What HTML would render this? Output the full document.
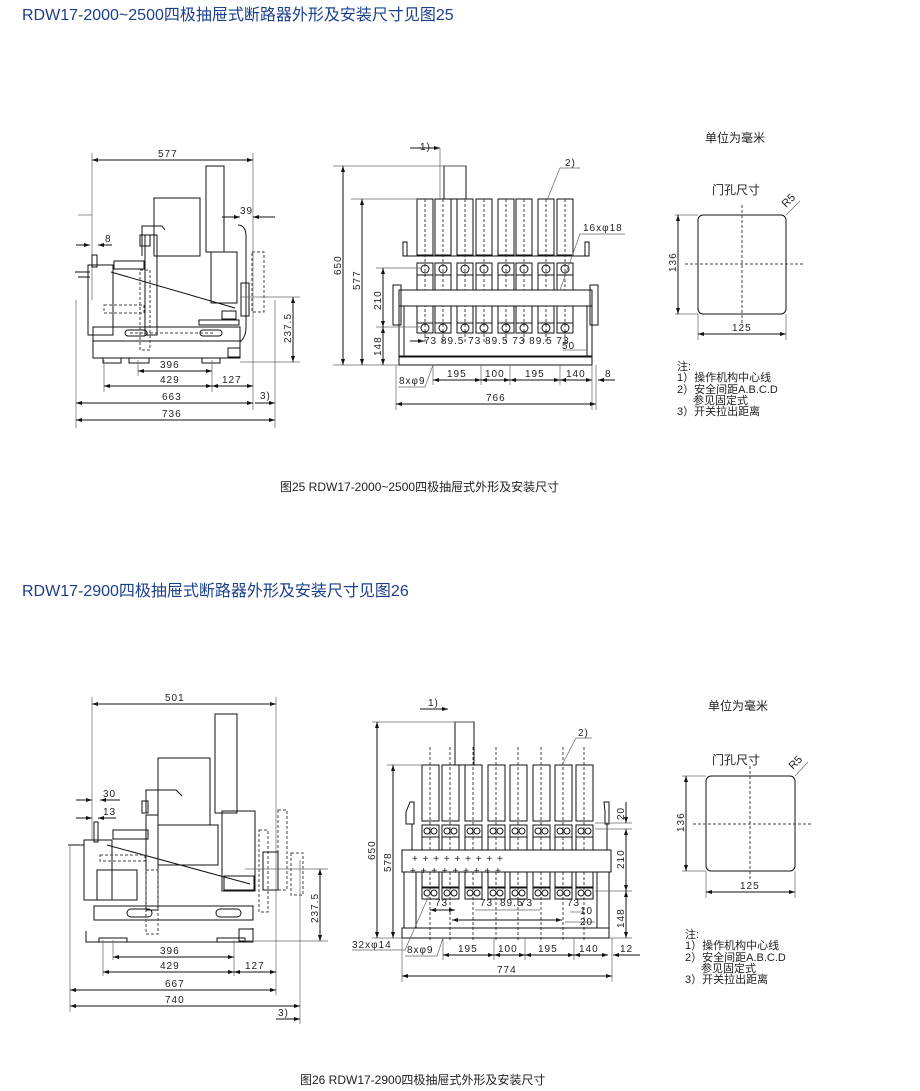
<!DOCTYPE html>
<html><head><meta charset="utf-8"><style>
body{margin:0;background:#fff;width:920px;height:1091px;overflow:hidden}
svg{display:block}
text{font-family:"Liberation Sans","Noto Sans CJK SC",sans-serif;fill:#222}
.t{font-size:16px;fill:#1b3f8f}
.d{font-size:10px;letter-spacing:1px}
.c{font-size:12px}
.n{font-size:11px}
line,rect,path,polyline{stroke:#111;fill:none;stroke-width:1}
.h{stroke-dasharray:3,2;stroke:#444}
.g{stroke:#666;stroke-width:.7}
</style></head><body>
<svg width="920" height="1091" viewBox="0 0 920 1091" xmlns="http://www.w3.org/2000/svg">
<defs>
<marker id="a" markerWidth="6" markerHeight="6" refX="6" refY="3" orient="auto"><path d="M0,1L6,3L0,5" style="fill:#111;stroke:none"/></marker>
<marker id="b" markerWidth="6" markerHeight="6" refX="0" refY="3" orient="auto"><path d="M6,1L0,3L6,5" style="fill:#111;stroke:none"/></marker>
<g id="p1"><rect x="0" y="0" width="16" height="56"/><line class="h" x1="8" y1="0" x2="8" y2="145"/><rect x="0" y="64" width="16" height="12"/><circle cx="8" cy="70" r="4" style="stroke:#111;fill:none"/><rect x="0" y="76" width="16" height="48"/><rect x="0" y="124" width="16" height="10"/><circle cx="8" cy="129" r="4" style="stroke:#111;fill:none"/></g>
<g id="p2"><rect x="0" y="0" width="17" height="56"/><line class="h" x1="8" y1="-18" x2="8" y2="175"/><rect x="0" y="60" width="17" height="12"/><circle cx="5" cy="66" r="3" style="stroke:#111;fill:none"/><circle cx="12" cy="66" r="3" style="stroke:#111;fill:none"/><rect x="0" y="72" width="17" height="50"/><rect x="0" y="123" width="17" height="11"/><circle cx="5" cy="128" r="3" style="stroke:#111;fill:none"/><circle cx="12" cy="128" r="3" style="stroke:#111;fill:none"/></g>
</defs>

<text class="t" x="22" y="20">RDW17-2000~2500四极抽屉式断路器外形及安装尺寸见图25</text>
<text class="t" x="22" y="596">RDW17-2900四极抽屉式断路器外形及安装尺寸见图26</text>
<text class="c" x="280" y="491">图25 RDW17-2000~2500四极抽屉式外形及安装尺寸</text>
<text class="c" x="300" y="1084">图26 RDW17-2900四极抽屉式外形及安装尺寸</text>

<!-- ===== Fig 25 side view ===== -->
<g>
<line x1="92" y1="153" x2="92" y2="300" class="g"/><line x1="253" y1="153" x2="253" y2="410" class="g"/>
<line x1="92" y1="160" x2="253" y2="160" marker-start="url(#b)" marker-end="url(#a)"/><text class="d" x="158" y="157">577</text>
<rect x="206" y="166" width="18" height="86"/>
<rect x="154" y="198" width="46" height="58"/>
<path d="M142,256V226h20l3,4"/>
<rect x="211" y="252" width="26" height="51"/>
<rect x="140" y="235" width="10" height="11"/><rect x="145" y="235" width="12" height="100"/>
<rect x="114" y="261" width="30" height="8"/>
<rect x="88" y="265" width="25" height="70"/><line x1="75" y1="272" x2="90" y2="272"/><line x1="78" y1="277" x2="90" y2="277"/><rect x="92" y="255" width="5" height="12"/>
<line x1="111" y1="272" x2="235" y2="308"/>
<rect x="199" y="320" width="40" height="5"/><rect x="222" y="311" width="14" height="8"/>
<path d="M238,225q8,0 8,12v90q0,10 -6,15"/><rect x="241" y="283" width="8" height="33"/>
<rect x="252" y="252" width="12" height="60" class="h"/>
<rect x="93" y="327" width="147" height="14"/>
<rect x="125" y="330" width="22" height="6" rx="3"/><rect x="200" y="330" width="22" height="6" rx="3"/>
<line class="h" x1="130" y1="333" x2="215" y2="333"/>
<path d="M93,341V358h147V341"/><rect x="103" y="358" width="18" height="5"/><rect x="129" y="358" width="20" height="5"/><rect x="202" y="358" width="18" height="5"/>
<rect x="228" y="348" width="12" height="9"/>
<rect x="140" y="270" width="10" height="80" class="h"/><rect x="104" y="305" width="40" height="8" class="h"/>
<line x1="78" y1="215" x2="92" y2="215" class="g"/><line x1="76" y1="245" x2="90" y2="245" marker-end="url(#a)"/><line x1="98" y1="245" x2="112" y2="245" marker-start="url(#b)"/><text class="d" x="105" y="242">8</text>
<line x1="222" y1="217" x2="240" y2="217" marker-end="url(#a)"/><line x1="253" y1="217" x2="275" y2="217" marker-start="url(#b)"/><text class="d" x="240" y="214">39</text>
<line x1="240" y1="297" x2="300" y2="297" class="g"/><line x1="240" y1="362" x2="300" y2="362" class="g"/>
<line x1="293" y1="297" x2="293" y2="362" marker-start="url(#b)" marker-end="url(#a)"/><text class="d" transform="translate(291,343) rotate(-90)">237.5</text>
<line x1="76" y1="300" x2="76" y2="428" class="g"/><line x1="104" y1="360" x2="104" y2="392" class="g"/><line x1="138" y1="360" x2="138" y2="376" class="g"/><line x1="212" y1="360" x2="212" y2="392" class="g"/><line x1="275" y1="300" x2="275" y2="428" class="g"/>
<line x1="138" y1="371" x2="212" y2="371" marker-start="url(#b)" marker-end="url(#a)"/><text class="d" x="160" y="368">396</text>
<line x1="104" y1="386" x2="212" y2="386" marker-start="url(#b)" marker-end="url(#a)"/><text class="d" x="160" y="383">429</text>
<line x1="212" y1="386" x2="253" y2="386" marker-start="url(#b)" marker-end="url(#a)"/><text class="d" x="222" y="383">127</text>
<line x1="76" y1="403" x2="253" y2="403" marker-start="url(#b)" marker-end="url(#a)"/><text class="d" x="162" y="400">663</text>
<line x1="255" y1="403" x2="275" y2="403" marker-end="url(#a)"/><text class="d" x="260" y="399">3)</text>
<line x1="76" y1="420" x2="275" y2="420" marker-start="url(#b)" marker-end="url(#a)"/><text class="d" x="162" y="417">736</text>
</g>

<!-- ===== Fig 25 front view ===== -->
<g>
<rect x="444" y="166" width="22" height="33"/>
<use href="#p1" x="417" y="199"/><use href="#p1" x="435" y="199"/><use href="#p1" x="457" y="199"/><use href="#p1" x="476" y="199"/><use href="#p1" x="498" y="199"/><use href="#p1" x="516" y="199"/><use href="#p1" x="538" y="199"/><use href="#p1" x="557" y="199"/>
<line x1="405" y1="256" x2="588" y2="256"/><rect x="403" y="242" width="4" height="14"/><rect x="585" y="242" width="4" height="14"/>
<rect x="399" y="290" width="193" height="16" style="fill:#fff"/>
<rect x="393" y="285" width="8" height="40"/><rect x="590" y="285" width="8" height="40"/>
<path d="M399,306V357h193V306"/><line x1="404" y1="306" x2="404" y2="357"/><line x1="587" y1="306" x2="587" y2="357"/>
<rect x="399" y="356" width="193" height="9"/>
<line x1="333" y1="166" x2="466" y2="166" class="g"/><line x1="351" y1="199" x2="417" y2="199" class="g"/><line x1="376" y1="268" x2="420" y2="268" class="g"/><line x1="376" y1="327" x2="420" y2="327" class="g"/><line x1="333" y1="365" x2="399" y2="365" class="g"/>
<line x1="343" y1="166" x2="343" y2="365" marker-start="url(#b)" marker-end="url(#a)"/><text class="d" transform="translate(341,275) rotate(-90)">650</text>
<line x1="362" y1="199" x2="362" y2="365" marker-start="url(#b)" marker-end="url(#a)"/><text class="d" transform="translate(360,290) rotate(-90)">577</text>
<line x1="383" y1="268" x2="383" y2="327" marker-start="url(#b)" marker-end="url(#a)"/><text class="d" transform="translate(381,310) rotate(-90)">210</text>
<line x1="383" y1="327" x2="383" y2="365" marker-start="url(#b)" marker-end="url(#a)"/><text class="d" transform="translate(381,356) rotate(-90)">148</text>
<line x1="410" y1="148" x2="440" y2="148" marker-end="url(#a)"/><line x1="440" y1="148" x2="440" y2="200" class="g"/><text class="d" x="420" y="150">1)</text>
<polyline points="547,200 560,168 580,168" class="g"/><text class="d" x="565" y="166">2)</text>
<polyline points="560,290 580,234 625,234" class="g"/><text class="d" x="583" y="231">16xφ18</text>
<text class="d" x="424" y="344">73 89.5 73 89.5 73 89.5 73</text>
<line x1="410" y1="341" x2="424" y2="341" marker-end="url(#a)"/>
<line x1="563" y1="350" x2="587" y2="350" class="g"/><text class="d" x="562" y="349">50</text>
<line x1="433" y1="365" x2="433" y2="385" class="g"/><line x1="481" y1="365" x2="481" y2="385" class="g"/><line x1="510" y1="365" x2="510" y2="385" class="g"/><line x1="560" y1="365" x2="560" y2="385" class="g"/><line x1="592" y1="365" x2="592" y2="410" class="g"/><line x1="396" y1="365" x2="396" y2="410" class="g"/><line x1="596" y1="365" x2="596" y2="410" class="g"/>
<polyline points="433,365 425,387 398,387" class="g"/><text class="d" x="399" y="384">8xφ9</text>
<line x1="433" y1="380" x2="481" y2="380" marker-start="url(#b)" marker-end="url(#a)"/><text class="d" x="447" y="377">195</text>
<line x1="481" y1="380" x2="510" y2="380" marker-start="url(#b)" marker-end="url(#a)"/><text class="d" x="485" y="377">100</text>
<line x1="510" y1="380" x2="560" y2="380" marker-start="url(#b)" marker-end="url(#a)"/><text class="d" x="525" y="377">195</text>
<line x1="560" y1="380" x2="592" y2="380" marker-start="url(#b)" marker-end="url(#a)"/><text class="d" x="566" y="377">140</text>
<line x1="598" y1="380" x2="615" y2="380" marker-start="url(#b)"/><text class="d" x="605" y="377">8</text>
<line x1="396" y1="404" x2="596" y2="404" marker-start="url(#b)" marker-end="url(#a)"/><text class="d" x="486" y="401">766</text>
</g>

<!-- ===== right panel 1 ===== -->
<g>
<text class="c" x="705" y="142">单位为毫米</text>
<text class="c" x="712" y="194">门孔尺寸</text>
<rect x="698" y="215" width="88" height="99" rx="5"/>
<line class="h" x1="742" y1="205" x2="742" y2="325"/><line class="h" x1="685" y1="264" x2="805" y2="264"/>
<line x1="786" y1="215" x2="800" y2="201" class="g"/><text class="n" transform="translate(786,208) rotate(-45)">R5</text>
<line x1="675" y1="215" x2="698" y2="215" class="g"/><line x1="675" y1="314" x2="698" y2="314" class="g"/>
<line x1="678" y1="215" x2="678" y2="314" marker-start="url(#b)" marker-end="url(#a)"/><text class="d" transform="translate(676,272) rotate(-90)">136</text>
<line x1="698" y1="314" x2="698" y2="340" class="g"/><line x1="786" y1="314" x2="786" y2="340" class="g"/>
<line x1="698" y1="334" x2="786" y2="334" marker-start="url(#b)" marker-end="url(#a)"/><text class="d" x="732" y="331">125</text>
<text class="n" x="677" y="370">注:</text>
<text class="n" x="677" y="381">1）操作机构中心线</text>
<text class="n" x="677" y="393">2）安全间距A.B.C.D</text>
<text class="n" x="693" y="404">参见固定式</text>
<text class="n" x="677" y="415">3）开关拉出距离</text>
</g>

<!-- ===== Fig 26 side view ===== -->
<g>
<line x1="92" y1="697" x2="92" y2="840" class="g"/><line x1="276" y1="697" x2="276" y2="995" class="g"/>
<line x1="92" y1="704" x2="276" y2="704" marker-start="url(#b)" marker-end="url(#a)"/><text class="d" x="165" y="701">501</text>
<rect x="215" y="714" width="22" height="99"/>
<rect x="158" y="758" width="52" height="67"/>
<path d="M146,813V790h30l6,6"/><rect x="142" y="801" width="6" height="12"/>
<rect x="158" y="825" width="60" height="40"/>
<rect x="222" y="811" width="33" height="80"/>
<rect x="146" y="815" width="12" height="95"/>
<rect x="113" y="830" width="35" height="9"/>
<rect x="84" y="840" width="28" height="60"/><line x1="68" y1="845" x2="84" y2="845"/><rect x="94" y="822" width="4" height="20"/>
<line x1="107" y1="845" x2="250" y2="884"/>
<rect x="97" y="870" width="40" height="30"/>
<rect x="224" y="876" width="30" height="14"/>
<rect x="259" y="830" width="9" height="82" class="h"/><rect x="278" y="810" width="9" height="80" class="h"/><rect x="291" y="853" width="12" height="42" class="h"/>
<rect x="263" y="852" width="15" height="38"/>
<rect x="94" y="906" width="159" height="14"/>
<rect x="127" y="909" width="25" height="8" rx="4"/><rect x="216" y="909" width="25" height="8" rx="4"/>
<path d="M86,931V942h167V928"/><rect x="99" y="938" width="28" height="4"/><rect x="217" y="938" width="28" height="4"/>
<rect x="239" y="929" width="14" height="12"/>
<rect x="146" y="870" width="12" height="64" class="h"/><rect x="100" y="855" width="45" height="6" class="h"/>
<line x1="76" y1="800" x2="92" y2="800" marker-end="url(#a)"/><line x1="100" y1="800" x2="120" y2="800" marker-start="url(#b)"/><text class="d" x="103" y="797">30</text>
<line x1="76" y1="818" x2="92" y2="818" marker-end="url(#a)"/><line x1="98" y1="818" x2="116" y2="818" marker-start="url(#b)"/><text class="d" x="103" y="815">13</text>
<line x1="245" y1="869" x2="328" y2="869" class="g"/><line x1="245" y1="941" x2="328" y2="941" class="g"/>
<line x1="320" y1="869" x2="320" y2="941" marker-start="url(#b)" marker-end="url(#a)"/><text class="d" transform="translate(318,923) rotate(-90)">237.5</text>
<line x1="70" y1="845" x2="70" y2="1012" class="g"/><line x1="103" y1="940" x2="103" y2="976" class="g"/><line x1="113" y1="940" x2="113" y2="960" class="g"/><line x1="234" y1="940" x2="234" y2="976" class="g"/><line x1="300" y1="860" x2="300" y2="1024" class="g"/>
<line x1="113" y1="957" x2="234" y2="957" marker-start="url(#b)" marker-end="url(#a)"/><text class="d" x="160" y="954">396</text>
<line x1="103" y1="972" x2="234" y2="972" marker-start="url(#b)" marker-end="url(#a)"/><text class="d" x="160" y="969">429</text>
<line x1="234" y1="972" x2="276" y2="972" marker-start="url(#b)" marker-end="url(#a)"/><text class="d" x="245" y="969">127</text>
<line x1="70" y1="990" x2="276" y2="990" marker-start="url(#b)" marker-end="url(#a)"/><text class="d" x="165" y="987">667</text>
<line x1="70" y1="1006" x2="300" y2="1006" marker-start="url(#b)" marker-end="url(#a)"/><text class="d" x="165" y="1003">740</text>
<line x1="276" y1="1019" x2="300" y2="1019" marker-end="url(#a)"/><text class="d" x="278" y="1016">3)</text>
</g>

<!-- ===== Fig 26 front view ===== -->
<g>
<rect x="455" y="722" width="19" height="43"/>
<use href="#p2" x="422" y="765"/><use href="#p2" x="442" y="765"/><use href="#p2" x="465" y="765"/><use href="#p2" x="488" y="765"/><use href="#p2" x="510" y="765"/><use href="#p2" x="533" y="765"/><use href="#p2" x="555" y="765"/><use href="#p2" x="576" y="765"/>
<path d="M406,812l4,-10h4v22h-8z"/><path d="M605,812l-1,-10h5v22h-4z"/>
<line x1="412" y1="824" x2="412" y2="850"/><line x1="607" y1="824" x2="607" y2="850"/>
<rect x="402" y="850" width="209" height="22" style="fill:#fff"/>
<text class="d" x="412" y="862">+  +  +  +  +  +  +  +  +</text>
<text class="d" x="410" y="874">+  +  +  +  +  +  +  +  +</text>
<path d="M404,872V928h205V872"/><line x1="416" y1="872" x2="416" y2="928"/><line x1="597" y1="872" x2="597" y2="928"/>
<rect x="402" y="928" width="207" height="10"/>
<line x1="372" y1="722" x2="474" y2="722" class="g"/><line x1="387" y1="765" x2="422" y2="765" class="g"/><line x1="372" y1="938" x2="402" y2="938" class="g"/>
<line x1="377" y1="722" x2="377" y2="938" marker-start="url(#b)" marker-end="url(#a)"/><text class="d" transform="translate(375,860) rotate(-90)">650</text>
<line x1="393" y1="765" x2="393" y2="938" marker-start="url(#b)" marker-end="url(#a)"/><text class="d" transform="translate(391,872) rotate(-90)">578</text>
<line x1="595" y1="823" x2="632" y2="823" class="g"/><line x1="595" y1="829" x2="632" y2="829" class="g"/><line x1="595" y1="891" x2="632" y2="891" class="g"/><line x1="609" y1="938" x2="632" y2="938" class="g"/>
<line x1="626" y1="802" x2="626" y2="823" marker-end="url(#a)"/><text class="d" transform="translate(624,820) rotate(-90)">20</text>
<line x1="626" y1="829" x2="626" y2="891" marker-start="url(#b)" marker-end="url(#a)"/><text class="d" transform="translate(624,869) rotate(-90)">210</text>
<line x1="626" y1="891" x2="626" y2="938" marker-start="url(#b)" marker-end="url(#a)"/><text class="d" transform="translate(624,928) rotate(-90)">148</text>
<line x1="420" y1="709" x2="448" y2="709" marker-end="url(#a)"/><text class="d" x="428" y="706">1)</text>
<polyline points="562,765 576,738 592,738" class="g"/><text class="d" x="578" y="736">2)</text>
<text class="d" x="435" y="906">73</text><line x1="430" y1="910" x2="455" y2="910" marker-start="url(#b)" marker-end="url(#a)"/>
<text class="d" x="480" y="906">73</text><text class="d" x="500" y="906">89.5</text><text class="d" x="520" y="906">73</text>
<line x1="475" y1="910" x2="540" y2="910" class="g"/>
<text class="d" x="567" y="906">73</text>
<line x1="452" y1="920" x2="562" y2="920" marker-start="url(#b)" marker-end="url(#a)"/>
<line x1="570" y1="912" x2="583" y2="912" class="g"/><text class="d" x="580" y="914">10</text>
<line x1="565" y1="922" x2="595" y2="922" class="g"/><text class="d" x="580" y="925">20</text>
<polyline points="430,893 405,950 352,950" class="g"/><text class="d" x="352" y="948">32xφ14</text>
<polyline points="443,938 437,956 405,956" class="g"/><text class="d" x="407" y="953">8xφ9</text>
<line x1="443" y1="938" x2="443" y2="960" class="g"/><line x1="494" y1="938" x2="494" y2="960" class="g"/><line x1="525" y1="938" x2="525" y2="960" class="g"/><line x1="574" y1="938" x2="574" y2="960" class="g"/><line x1="402" y1="938" x2="402" y2="982" class="g"/><line x1="612" y1="938" x2="612" y2="982" class="g"/>
<line x1="443" y1="955" x2="494" y2="955" marker-start="url(#b)" marker-end="url(#a)"/><text class="d" x="458" y="952">195</text>
<line x1="494" y1="955" x2="525" y2="955" marker-start="url(#b)" marker-end="url(#a)"/><text class="d" x="498" y="952">100</text>
<line x1="525" y1="955" x2="574" y2="955" marker-start="url(#b)" marker-end="url(#a)"/><text class="d" x="538" y="952">195</text>
<line x1="574" y1="955" x2="608" y2="955" marker-start="url(#b)" marker-end="url(#a)"/><text class="d" x="579" y="952">140</text>
<line x1="613" y1="955" x2="640" y2="955" marker-start="url(#b)"/><text class="d" x="620" y="952">12</text>
<line x1="402" y1="976" x2="612" y2="976" marker-start="url(#b)" marker-end="url(#a)"/><text class="d" x="497" y="973">774</text>
</g>

<!-- ===== right panel 2 ===== -->
<g>
<text class="c" x="708" y="710">单位为毫米</text>
<text class="c" x="712" y="764">门孔尺寸</text>
<rect x="706" y="776" width="89" height="95" rx="5"/>
<line class="h" x1="750" y1="766" x2="750" y2="880"/><line class="h" x1="693" y1="824" x2="812" y2="824"/>
<line x1="795" y1="776" x2="808" y2="762" class="g"/><text class="n" transform="translate(793,770) rotate(-45)">R5</text>
<line x1="682" y1="776" x2="706" y2="776" class="g"/><line x1="682" y1="871" x2="706" y2="871" class="g"/>
<line x1="686" y1="776" x2="686" y2="871" marker-start="url(#b)" marker-end="url(#a)"/><text class="d" transform="translate(684,832) rotate(-90)">136</text>
<line x1="706" y1="871" x2="706" y2="898" class="g"/><line x1="795" y1="871" x2="795" y2="898" class="g"/>
<line x1="706" y1="892" x2="795" y2="892" marker-start="url(#b)" marker-end="url(#a)"/><text class="d" x="740" y="889">125</text>
<text class="n" x="685" y="938">注:</text>
<text class="n" x="685" y="949">1）操作机构中心线</text>
<text class="n" x="685" y="961">2）安全间距A.B.C.D</text>
<text class="n" x="701" y="972">参见固定式</text>
<text class="n" x="685" y="983">3）开关拉出距离</text>
</g>
</svg>
</body></html>
